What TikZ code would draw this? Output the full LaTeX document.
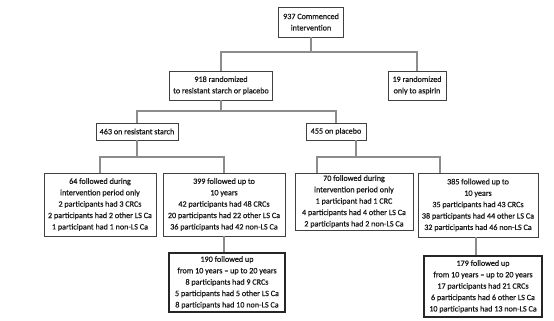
\documentclass[tikz,border=0pt]{standalone}
\usepackage{fontspec}
\setmainfont{Carlito}[FakeBold=0.6]
\begin{document}
\begin{tikzpicture}[x=1pt,y=-1pt,
  box/.style={draw=black!75, line width=0.8pt, fill=white, align=center, inner sep=0pt,
    text=black!90, font=\fontsize{8.1}{11.4}\selectfont},
  boxb/.style={box, draw=black!85, line width=1.2pt},
  conn/.style={draw=black!45, line width=1.1pt}]
\useasboundingbox (0,0) rectangle (554,321);
\fill[white] (0,0) rectangle (554,321);
% nodes
\node[box, minimum width=65pt, minimum height=30pt] (top) at (311,22) {937 Commenced\\intervention};
\node[box, minimum width=103pt, minimum height=29pt] (b918) at (221,85.5) {918 randomized\\to resistant starch or placebo};
\node[box, minimum width=58pt, minimum height=29pt] (b19) at (417,85.5) {19 randomized\\only to aspirin};
\node[box, minimum width=82pt, minimum height=17pt] (b463) at (137,131.5) {463 on resistant starch};
\node[box, minimum width=60pt, minimum height=17pt] (b455) at (336,131.5) {455 on placebo};
\node[box, minimum width=112pt, minimum height=63pt] (b64) at (100,204.5) {64 followed during\\intervention period only\\2 participants had 3 CRCs\\2 participants had 2 other LS Ca\\1 participant had 1 non-LS Ca};
\node[box, minimum width=122pt, minimum height=63pt] (b399) at (224,204.5) {399 followed up to\\10 years\\42 participants had 48 CRCs\\20 participants had 22 other LS Ca\\36 participants had 42 non-LS Ca};
\node[box, minimum width=118pt, minimum height=57pt] (b70) at (354,201.5) {70 followed during\\intervention period only\\1 participant had 1 CRC\\4 participants had 4 other LS Ca\\2 participants had 2 non-LS Ca};
\node[box, minimum width=120pt, minimum height=64pt] (b385) at (478,205) {385 followed up to\\10 years\\35 participants had 43 CRCs\\38 participants had 44 other LS Ca\\32 participants had 46 non-LS Ca};
\node[boxb, minimum width=116pt, minimum height=59pt] (b190) at (227,282.5) {190 followed up\\from 10 years -- up to 20 years\\8 participants had 9 CRCs\\5 participants had 5 other LS Ca\\8 participants had 10 non-LS Ca};
\node[boxb, minimum width=118pt, minimum height=61pt] (b179) at (483,286.5) {179 followed up\\from 10 years -- up to 20 years\\17 participants had 21 CRCs\\6 participants had 6 other LS Ca\\10 participants had 13 non-LS Ca};
% junction levels
\coordinate (h1) at (0,52);
\coordinate (h2) at (0,111);
\coordinate (h3) at (0,157);
% connectors
\draw[conn] (top.south) -- (top.south |- h1);
\draw[conn] (b918.north) |- (top.south |- h1) -| (b19.north);
\draw[conn] (b918.south) -- (b918.south |- h2);
\draw[conn] (b463.north) |- (b918.south |- h2) -| (b455.north);
\draw[conn] (b463.south) -- (b463.south |- h3);
\draw[conn] (b64.north) |- (b463.south |- h3) -| (b399.north);
\draw[conn] ([xshift=20pt]b455.south) -- ([xshift=20pt]b455.south |- h3);
\draw[conn] ([xshift=-37pt]b70.north) |- ([xshift=20pt]b455.south |- h3) -| ([xshift=-38pt]b385.north);
\draw[conn] (b399.south) -- (b399.south |- b190.north);
\draw[conn] ([xshift=-2pt]b385.south) -- ([xshift=-2pt]b385.south |- b179.north);
\end{tikzpicture}
\end{document}
